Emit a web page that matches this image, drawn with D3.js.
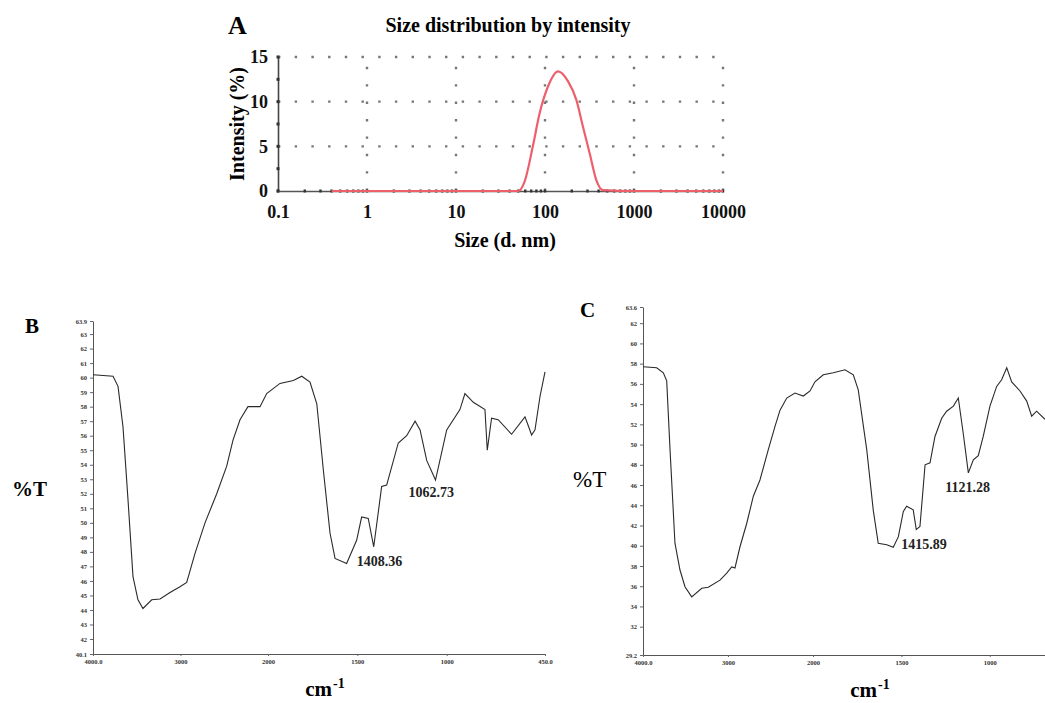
<!DOCTYPE html>
<html>
<head>
<meta charset="utf-8">
<script src="https://cdn.jsdelivr.net/npm/d3@7"></script>
<style>
  body { margin: 0; background: #fff; }
  svg { display: block; }
  text { font-family: "Liberation Serif", "Times New Roman", serif; }
</style>
</head>
<body>
<div id="chart"></div>
<script>
// Panel A: size distribution (DLS)
const sizeNm = [0.4, 1, 10, 30, 50, 59, 73, 87, 108, 140, 181, 225, 267, 318, 378, 449, 1000, 10000];
const intensity = [0, 0, 0, 0, 0, 1.05, 5.0, 8.7, 11.7, 13.4, 12.3, 10.2, 7.2, 4.2, 1.2, 0.1, 0, 0];
const sizeTicks = [0.1, 1, 10, 100, 1000, 10000];
const intensityTicks = [0, 5, 10, 15];

// Panel B: FTIR spectrum
const wnB = [4000, 3771, 3714, 3657, 3600, 3543, 3486, 3429, 3329, 3234, 3120, 3006, 2929, 2834, 2720, 2586,
  2472, 2400, 2320, 2229, 2091, 2015, 1933, 1858, 1811, 1765, 1727, 1690, 1653, 1625, 1560, 1504, 1476, 1439,
  1408.36, 1364, 1336, 1271, 1224, 1177, 1149, 1112, 1062.73, 1000, 926, 898, 851, 786, 773, 749, 712, 637,
  562, 544, 525, 506, 478, 450];
const tB = [60.2, 60.1, 59.4, 56.6, 51.6, 46.3, 44.7, 44.1, 44.7, 44.75, 45.2, 45.6, 45.9, 47.9, 50.0, 52.0,
  53.9, 55.7, 57.1, 58.0, 58.0, 58.9, 59.6, 59.8, 60.1, 59.7, 58.2, 53.6, 49.3, 47.55, 47.2, 48.8, 50.4, 50.3,
  48.35, 52.5, 52.6, 55.5, 56.0, 57.0, 56.4, 54.3, 52.95, 56.4, 57.8, 58.9, 58.3, 57.8, 55.0, 57.2, 57.1, 56.1,
  57.3, 56.7, 56.05, 56.4, 58.7, 60.4];
const yTicksB = [63.9, 63, 62, 61, 60, 59, 58, 57, 56, 55, 54, 53, 52, 51, 50, 49, 48, 47, 46, 45, 44, 43, 42, 40.1];
const xTicksB = [4000, 3000, 2000, 1500, 1000, 450];
const peaksB = [1408.36, 1062.73];

// Panel C: FTIR spectrum
const wnC = [4000, 3839, 3761, 3721, 3682, 3624, 3565, 3506, 3427, 3309, 3232, 3094, 3015, 2956, 2918, 2859,
  2780, 2702, 2624, 2526, 2447, 2388, 2309, 2212, 2114, 2035, 1989, 1942, 1885, 1819, 1772, 1744, 1696, 1659,
  1631, 1583, 1546, 1517, 1489, 1470, 1433, 1415.89, 1395, 1366, 1338, 1310, 1272, 1244, 1206, 1178, 1150,
  1121.28, 1093, 1065, 1037, 999, 961, 933, 904, 876, 829, 791, 763, 735, 688];
const tC = [57.7, 57.6, 57.1, 56.3, 49.5, 40.25, 37.6, 35.95, 34.95, 35.8, 35.9, 36.6, 37.3, 37.9, 37.8, 39.9,
  42.2, 44.9, 46.5, 49.5, 51.8, 53.4, 54.6, 55.1, 54.8, 55.3, 56.2, 56.9, 57.1, 57.4, 56.9, 55.4, 49.5, 43.5,
  40.25, 40.1, 39.85, 40.9, 43.4, 43.9, 43.55, 41.6, 41.9, 48.0, 48.2, 50.8, 52.6, 53.3, 53.8, 54.6, 51.1,
  47.2, 48.5, 48.9, 50.8, 53.8, 55.75, 56.4, 57.6, 56.2, 55.3, 54.3, 52.8, 53.3, 52.5];
const yTicksC = [63.6, 62, 60, 58, 56, 54, 52, 50, 48, 46, 44, 42, 40, 38, 36, 34, 32, 29.2];
const xTicksC = [4000, 3000, 2000, 1500, 1000];
const peaksC = [1415.89, 1121.28];

const w = 1045; //Width
const h = 703;  //Height

const svg = d3.select("#chart")
              .append("svg")
              .attr("width", w)
              .attr("height", h);

svg.append("rect").attr("width", w).attr("height", h).attr("fill", "#fff");

//---------------- Panel A ----------------
const xA = d3.scaleLog().domain([0.1, 10000]).range([278, 723]);
const yA = d3.scaleLinear().domain([0, 15]).range([191, 57]);

const gA = svg.append("g");

//dotted grid
gA.selectAll(".vgrid")
  .data(sizeTicks.slice(1))
  .enter().append("line")
  .attr("x1", d => xA(d)).attr("x2", d => xA(d))
  .attr("y1", yA(0)).attr("y2", yA(15))
  .attr("stroke", "#777").attr("stroke-width", 2.4)
  .attr("stroke-dasharray", "2.4,15");

gA.selectAll(".hgrid")
  .data(intensityTicks.slice(1))
  .enter().append("line")
  .attr("x1", xA(0.1)).attr("x2", xA(10000))
  .attr("y1", d => yA(d)).attr("y2", d => yA(d))
  .attr("stroke", "#777").attr("stroke-width", 2.4)
  .attr("stroke-dasharray", "2.4,14.3");

//Y axis
const yAxisA = d3.axisLeft(yA)
                 .tickValues(intensityTicks)
                 .tickSize(0)
                 .tickPadding(10);
gA.append("g")
  .attr("transform", "translate(" + xA(0.1) + ",0)")
  .call(yAxisA)
  .call(g => g.select(".domain").attr("stroke", "#444").attr("stroke-width", 1.6))
  .call(g => g.selectAll("text")
              .attr("font-size", 18).attr("font-weight", "bold")
              .attr("font-family", "Liberation Serif").attr("fill", "#111"));

//minor dots on y axis
gA.selectAll(".ydot")
  .data(d3.range(0, 15.1, 2.5))
  .enter().append("rect")
  .attr("x", xA(0.1) - 1.5).attr("y", d => yA(d) - 1.5)
  .attr("width", 3).attr("height", 3).attr("fill", "#333");

//X axis
const xAxisA = d3.axisBottom(xA)
                 .tickValues(sizeTicks)
                 .tickFormat(d => d < 1 ? d3.format(".1f")(d) : d3.format("d")(d))
                 .tickSize(0)
                 .tickPadding(14);
gA.append("g")
  .attr("transform", "translate(0," + yA(0) + ")")
  .call(xAxisA)
  .call(g => g.select(".domain").attr("stroke", "#555").attr("stroke-width", 1.6))
  .call(g => g.selectAll("text")
              .attr("font-size", 18).attr("font-weight", "bold")
              .attr("font-family", "Liberation Serif").attr("fill", "#111"));

//minor tick dots along x axis
const minorA = [];
sizeTicks.slice(0, -1).forEach(t => { for (let k = 1; k < 10; k++) minorA.push(t * k); });
minorA.push(10000);
gA.selectAll(".xdot")
  .data(minorA)
  .enter().append("rect")
  .attr("x", d => xA(d) - 1.2).attr("y", yA(0) - 1.5)
  .attr("width", 2.4).attr("height", 3).attr("fill", "#333");

//distribution line
const lineA = d3.line()
                .x(d => xA(d[0]))
                .y(d => yA(d[1]))
                .curve(d3.curveMonotoneX);
gA.append("path")
  .datum(d3.zip(sizeNm, intensity))
  .attr("d", lineA)
  .attr("fill", "none")
  .attr("stroke", "#ee5f6c")
  .attr("stroke-width", 2.2);

gA.append("text")
  .attr("x", 228).attr("y", 34)
  .attr("font-size", 26).attr("font-weight", "bold")
  .text("A");

gA.append("text")
  .attr("x", 508).attr("y", 32)
  .attr("text-anchor", "middle")
  .attr("font-size", 20).attr("font-weight", "bold")
  .text("Size distribution by intensity");

gA.append("text")
  .attr("x", 505).attr("y", 247)
  .attr("text-anchor", "middle")
  .attr("font-size", 20).attr("font-weight", "bold")
  .text("Size (d. nm)");

gA.append("text")
  .attr("transform", "translate(244," + 124 + ") rotate(-90)")
  .attr("text-anchor", "middle")
  .attr("font-size", 20).attr("font-weight", "bold")
  .text("Intensity (%)");

//---------------- IR panels ----------------
const drawIR = (opts) => {
  const g = svg.append("g");
  const { x, y, wn, t, yTicks, xTicks, peaks, peakOffsets } = opts;

  const yAxis = d3.axisLeft(y)
                  .tickValues(yTicks)
                  .tickSize(3)
                  .tickSizeOuter(0)
                  .tickPadding(3)
                  .tickFormat(d => Number.isInteger(d) ? d : d.toFixed(1));
  g.append("g")
    .attr("transform", "translate(" + x(4000) + ",0)")
    .call(yAxis)
    .call(s => s.select(".domain").attr("stroke", "#555").attr("stroke-width", 1))
    .call(s => s.selectAll(".tick line").attr("stroke", "#666"))
    .call(s => s.selectAll("text").attr("font-size", 6.5).attr("fill", "#333")
                 .attr("font-weight", "bold"));

  const xAxis = d3.axisBottom(x)
                  .tickValues(xTicks)
                  .tickSize(2)
                  .tickSizeOuter(0)
                  .tickPadding(3)
                  .tickFormat(d => (d === 4000 || d === 450) ? d.toFixed(1) : d);
  g.append("g")
    .attr("transform", "translate(0," + y.range()[0] + ")")
    .call(xAxis)
    .call(s => s.select(".domain").attr("stroke", "#555").attr("stroke-width", 1))
    .call(s => s.selectAll(".tick line").attr("stroke", "#666"))
    .call(s => s.selectAll("text").attr("font-size", 6.5).attr("fill", "#333")
                 .attr("font-weight", "bold"));

  const line = d3.line()
                 .x(d => x(d[0]))
                 .y(d => y(d[1]));
  g.append("path")
    .datum(d3.zip(wn, t))
    .attr("d", line)
    .attr("fill", "none")
    .attr("stroke", "#2a2a2a")
    .attr("stroke-width", 1.1);

  peaks.forEach((p, i) => {
    const idx = wn.indexOf(p);
    g.append("text")
      .attr("x", x(p) + peakOffsets[i][0])
      .attr("y", y(t[idx]) + peakOffsets[i][1])
      .attr("font-size", 14).attr("font-weight", "bold").attr("fill", "#222")
      .text(p.toFixed(2));
  });

  g.append("text")
    .attr("x", opts.letter[1]).attr("y", opts.letter[2])
    .attr("font-size", 21).attr("font-weight", "bold")
    .text(opts.letter[0]);

  g.append("text")
    .attr("x", opts.yTitle[0]).attr("y", opts.yTitle[1])
    .attr("font-size", opts.yTitle[2]).attr("font-weight", opts.yTitle[3])
    .text("%T");

  //cm-1 title as two texts
  g.append("text")
    .attr("x", opts.xTitle[0]).attr("y", opts.xTitle[1])
    .attr("text-anchor", "end")
    .attr("font-size", 21).attr("font-weight", "bold")
    .text("cm");
  g.append("text")
    .attr("x", opts.xTitle[0] + 1).attr("y", opts.xTitle[1] - 8)
    .attr("font-size", 14).attr("font-weight", "bold")
    .text("-1");
};

drawIR({
  x: d3.scaleLinear().domain([4000, 2000, 450]).range([93, 268, 545]),
  y: d3.scaleLinear().domain([40.1, 42, 63.9]).range([654, 639, 321]),
  wn: wnB, t: tB, yTicks: yTicksB, xTicks: xTicksB, peaks: peaksB,
  peakOffsets: [[-17, 19], [-27, 17]],
  letter: ["B", 25, 333],
  yTitle: [12, 496, 21, "bold"],
  xTitle: [332, 696]
});

drawIR({
  x: d3.scaleLinear().domain([4000, 2000, 450]).range([643, 813, 1087]),
  y: d3.scaleLinear().domain([29.2, 63.6]).range([655, 307]),
  wn: wnC, t: tC, yTicks: yTicksC, xTicks: xTicksC, peaks: peaksC,
  peakOffsets: [[-15, 19], [-23, 19]],
  letter: ["C", 580, 317],
  yTitle: [573, 487, 23, "normal"],
  xTitle: [877, 697]
});
</script>
</body>
</html>
